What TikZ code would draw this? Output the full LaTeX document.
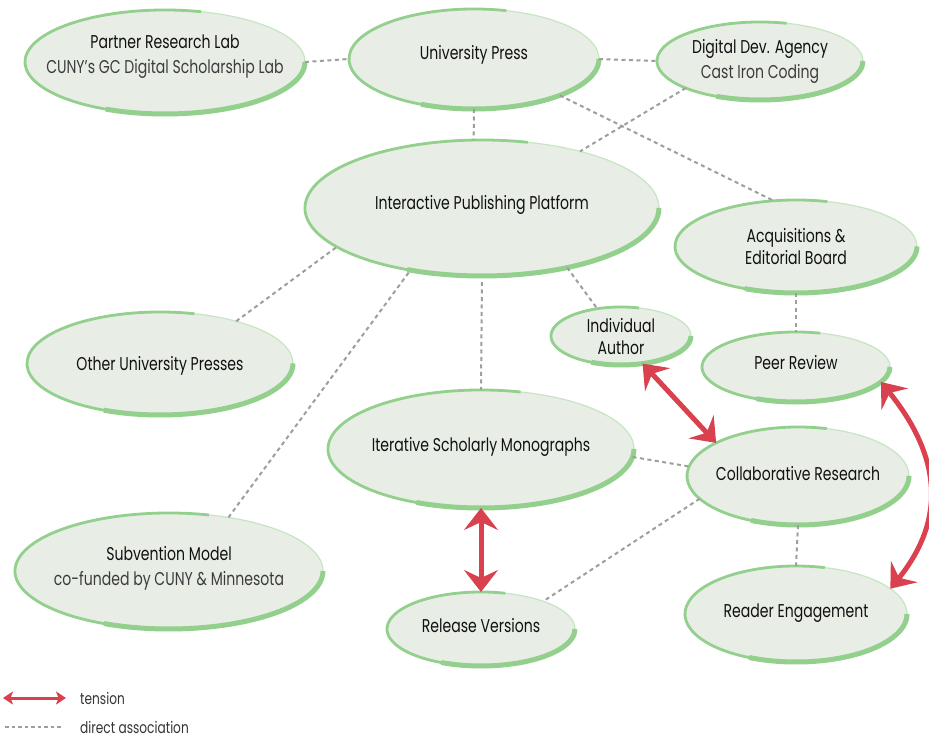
\documentclass[tikz,border=0pt]{standalone}
\usepackage{fontspec}
\setmainfont{Poppins}[FakeStretch=0.76]
\usetikzlibrary{shapes.geometric,arrows.meta,calc}
\definecolor{bfill}{HTML}{E8EEE6}
\definecolor{bgreen}{HTML}{93CF8D}
\definecolor{blight}{HTML}{C6E5C2}
\definecolor{tred}{HTML}{D9414F}
\definecolor{dgray}{HTML}{9E9E9E}
\definecolor{ttext}{HTML}{111111}
\definecolor{stext}{HTML}{3C3C3C}
\newcommand\bubble[5]{%
  \node[bub, minimum width=2*#4pt, minimum height=2*#5pt] (#1) at (#2,#3) {};
  \draw[bubedge] ([shift={(75:#4pt and #5pt)}]#1.center) arc[start angle=75, end angle=360, x radius=#4pt, y radius=#5pt];
  \draw[bubthick] ([shift={(0:#4pt and #5pt)}]#1.center) arc[start angle=0, end angle=-115, x radius=#4pt, y radius=#5pt];
}
\tikzset{
  bub/.style={ellipse, fill=bfill, draw=blight, line width=1.2pt, inner sep=0pt, outer sep=0pt},
  bubedge/.style={draw=bgreen, line width=2.8pt},
  bubthick/.style={draw=bgreen, line width=5pt},
  assoc/.style={draw=dgray, line width=2pt, dash pattern=on 4pt off 3.5pt},
  tensarrow/.style={draw=tred, line width=5pt, {Stealth[length=22pt,width=34pt,inset=8pt]}-{Stealth[length=22pt,width=34pt,inset=8pt]}},
  ltensarrow/.style={draw=tred, line width=3pt, {Stealth[length=10pt,width=13pt,inset=2.5pt]}-{Stealth[length=10pt,width=13pt,inset=2.5pt]}},
  lbl/.style={font=\fontsize{18.5}{22}\selectfont, text=ttext, align=center, inner sep=0pt},
  lbltwo/.style={font=\fontsize{18.5}{25}\selectfont, text=ttext, align=center, inner sep=0pt},
  legtext/.style={font=\fontsize{16}{18}\selectfont, text=ttext!85, anchor=west, inner sep=0pt},
}
\begin{document}
\begin{tikzpicture}[x=1pt, y=1pt]
\useasboundingbox[fill=white] (0,0) rectangle (929,737);

% bubbles
\bubble{pr}{165}{675}{140}{52}
\bubble{up}{474}{678}{125}{50}
\bubble{dd}{760}{676}{103}{39}
\bubble{ipp}{482}{529}{177}{68}
\bubble{aeb}{796}{490.5}{121}{46.5}
\bubble{oup}{160}{373.5}{133}{51.5}
\bubble{ia}{621}{401}{70}{29}
\bubble{peer}{796}{370}{94}{35}
\bubble{ism}{481}{288}{153}{59}
\bubble{cr}{798}{261}{111}{49}
\bubble{sm}{169}{166}{154}{58}
\bubble{rv}{481}{108}{94}{37}
\bubble{re}{796}{123}{111}{48}

% labels
\node[lbltwo] (pr-t) at (165,680) {Partner Research Lab\\\color{stext}CUNY’s GC Digital Scholarship Lab};
\node[lbl] (up-t) at (474,682) {University Press};
\node[lbltwo] (dd-t) at (760,676) {Digital Dev. Agency\\\color{stext}Cast Iron Coding};
\node[lbl] (ipp-t) at (482,532) {Interactive Publishing Platform};
\node[lbl] (aeb-t) at (796,490.5) {Acquisitions \&\\Editorial Board};
\node[lbl] (oup-t) at (160,371) {Other University Presses};
\node[lbl] (ia-t) at (621,400) {Individual\\Author};
\node[lbl] (peer-t) at (796,374) {Peer Review};
\node[lbl] (ism-t) at (481,290) {Iterative Scholarly Monographs};
\node[lbl] (cr-t) at (798,263) {Collaborative Research};
\node[lbltwo] (sm-t) at (169,169) {Subvention Model\\\color{stext}co-funded by CUNY \& Minnesota};
\node[lbl] (rv-t) at (481,111) {Release Versions};
\node[lbl] (re-t) at (796,124) {Reader Engagement};

% direct associations
\draw[assoc] (pr.0) -- (up.180);
\draw[assoc] (up.0) -- (dd.180);
\draw[assoc] (up.270) -- (ipp.97);
\draw[assoc] (dd.200) -- (ipp.30);
\draw[assoc] (up.-23) -- (aeb.116);
\draw[assoc] (oup.29) -- (ipp.195);
\draw[assoc] (sm.42) -- (ipp.221);
\draw[assoc, shorten <=6pt] (ipp.270) -- (ism.90);
\draw[assoc] (ipp.-35) -- (ia.131);
\draw[assoc] (aeb.270) -- (peer.90);
\draw[assoc] (ism.-3) -- (cr.175);
\draw[assoc] (cr.193) -- (rv.24);
\draw[assoc] (cr.270) -- (re.90);

% tensions
\draw[tensarrow] (ia.-52) -- (cr.158);
\draw[tensarrow] (ism.270) -- (rv.90);
\draw[tensarrow] (peer.-10) .. controls ($(peer.-10)+(58,-72)$) and ($(re.15)+(58,72)$) .. (re.15);

% legend
\coordinate (lt1) at (3,39);
\coordinate (lt2) at (66,39);
\draw[ltensarrow] (lt1) -- (lt2);
\node[legtext] (lgt) at (80,39) {tension};
\coordinate (la1) at (5,10);
\coordinate (la2) at (63,10);
\draw[assoc, line width=1.8pt, dash pattern=on 3.5pt off 3pt] (la1) -- (la2);
\node[legtext] (lga) at (80,10) {direct association};
\end{tikzpicture}
\end{document}
